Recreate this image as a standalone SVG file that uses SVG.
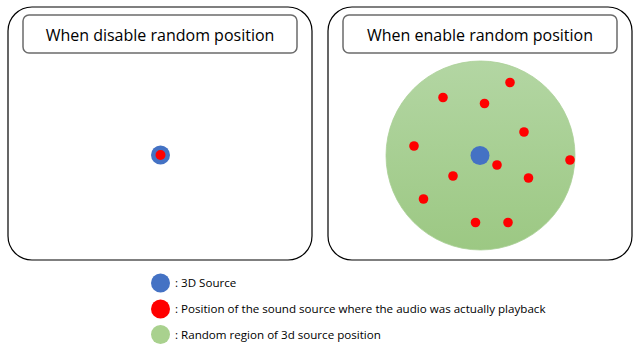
<svg xmlns="http://www.w3.org/2000/svg" width="640" height="360" viewBox="0 0 640 360">
<defs>
<linearGradient id="g" x1="0" y1="0" x2="0" y2="1">
<stop offset="0" stop-color="#b3d6a3"/>
<stop offset="1" stop-color="#9cc883"/>
</linearGradient>
<style>
.panel{fill:#fff;stroke:#000;stroke-width:1.2}
.title{fill:#fff;stroke:#6b6b6b;stroke-width:1.5}
.tt{font-family:"Open Sans","Noto Sans",sans-serif;font-size:16px;fill:#000;text-anchor:middle}
.lt{font-family:"Open Sans","Noto Sans",sans-serif;font-size:11.6px;fill:#000}
.blue{fill:#4472c4}
.red{fill:#ff0000}
</style>
</defs>
<g id="panel-disable">
<rect class="panel" x="8" y="7" width="304" height="253" rx="24"/>
<rect class="title" x="23" y="15" width="274" height="38" rx="6"/>
<text class="tt" x="160" y="41">When disable random position</text>
<circle class="blue" cx="160.5" cy="155" r="9.5"/>
<circle class="red" cx="160.5" cy="155" r="5"/>
</g>
<g id="panel-enable">
<rect class="panel" x="328" y="7" width="304" height="253" rx="24"/>
<rect class="title" x="343" y="15" width="274" height="38" rx="6"/>
<text class="tt" x="480" y="41">When enable random position</text>
<circle cx="480.5" cy="155.5" r="94.5" fill="url(#g)" stroke="#a9cf95" stroke-width="0.8"/>
<circle class="blue" cx="480" cy="155.5" r="9.5"/>
<g class="red">
<circle cx="510" cy="82.5" r="4.8"/>
<circle cx="443" cy="97.5" r="4.8"/>
<circle cx="484.5" cy="103.5" r="4.8"/>
<circle cx="524" cy="132" r="4.8"/>
<circle cx="414" cy="146" r="4.8"/>
<circle cx="497" cy="165" r="4.8"/>
<circle cx="570" cy="160" r="4.8"/>
<circle cx="453" cy="176" r="4.8"/>
<circle cx="528.5" cy="178" r="4.8"/>
<circle cx="423.5" cy="199" r="4.8"/>
<circle cx="475.5" cy="222.5" r="4.8"/>
<circle cx="508" cy="222.5" r="4.8"/>
</g>
</g>
<g id="legend">
<circle class="blue" cx="160.5" cy="283" r="9.5"/>
<text class="lt" x="175" y="287">: 3D Source</text>
<circle class="red" cx="160.5" cy="309" r="9.5"/>
<text class="lt" x="175" y="313">: Position of the sound source where the audio was actually playback</text>
<circle cx="160.5" cy="334.5" r="9.5" fill="#a9d18e"/>
<text class="lt" x="175" y="339">: Random region of 3d source position</text>
</g>
</svg>
